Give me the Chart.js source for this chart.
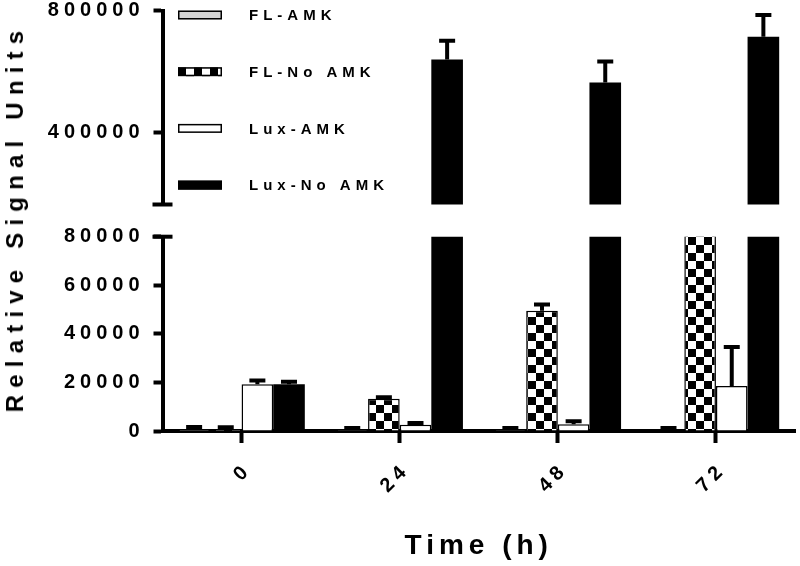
<!DOCTYPE html>
<html>
<head>
<meta charset="utf-8">
<script src="https://cdn.jsdelivr.net/npm/chart.js@4.4.1/dist/chart.umd.min.js"></script>
<style>
  html, body { margin: 0; padding: 0; background: #fff; }
  #wrap { position: relative; width: 800px; height: 566px; overflow: hidden; }
  #upper { position: absolute; left: 0; top: 0; }
  #lower { position: absolute; left: 0; top: 205px; }
  #ytitle {
    position: absolute; left: 15px; top: 218px;
    transform: translate(-50%, -50%) rotate(-90deg);
    font: bold 24px "Liberation Sans", Arial, sans-serif;
    letter-spacing: 7.2px; line-height: 1; white-space: nowrap; color: #000;
  }
</style>
</head>
<body>
<div id="wrap">
  <canvas id="lower" width="800" height="361"></canvas>
  <canvas id="upper" width="800" height="215"></canvas>
  <div id="ytitle">Relative Signal Units</div>
</div>
<script>
// values (means and error bar heights)
const timeLabels = ["0", "24", "48", "72"];
const seriesNames = ["FL-AMK", "FL-No AMK", "Lux-AMK", "Lux-No AMK"];
const flAmk = [600, 400, 400, 300];
const flAmkErr = [1000, 800, 800, 900];
const flNoAmk = [700, 13300, 49500, 95000];
const flNoAmkErr = [800, 550, 2600, 0];
const luxAmk = [19200, 2600, 2800, 18500];
const luxAmkErr = [1600, 650, 1250, 16100];
const luxNoAmk = [19200, 640000, 565000, 715000];
const luxNoAmkErr = [1100, 61700, 69200, 71300];
const upperTicks = [400000, 800000];
const lowerTicks = [0, 20000, 40000, 60000, 80000];

const FONT = '"Liberation Sans", Arial, sans-serif';

function checker(size) {
  const c = document.createElement("canvas");
  c.width = c.height = size * 2;
  const g = c.getContext("2d");
  g.fillStyle = "#fff";
  g.fillRect(0, 0, size * 2, size * 2);
  g.fillStyle = "#000";
  g.fillRect(0, 0, size, size);
  g.fillRect(size, size, size, size);
  return g.createPattern(c, "repeat");
}
const checkPattern = checker(8);

function makeDatasets() {
  const fills = ["#d4d4d4", checkPattern, "#ffffff", "#000000"];
  const values = [flAmk, flNoAmk, luxAmk, luxNoAmk];
  const errs = [flAmkErr, flNoAmkErr, luxAmkErr, luxNoAmkErr];
  return seriesNames.map((name, i) => ({
    label: name,
    data: values[i],
    errors: errs[i],
    backgroundColor: fills[i],
    borderColor: "#000",
    borderWidth: i === 3 ? 0 : 1.5,
    clip: 0
  }));
}

const spacing = {
  id: "spacing",
  beforeUpdate(chart) { chart.ctx.letterSpacing = "5px"; },
  beforeDraw(chart) { chart.ctx.letterSpacing = "5px"; }
};

const errorBars = {
  id: "errorBars",
  afterDatasetsDraw(chart) {
    const ctx = chart.ctx;
    const area = chart.chartArea;
    const yScale = chart.scales.y;
    ctx.save();
    ctx.beginPath();
    ctx.rect(area.left, area.top - 4, area.right - area.left, area.bottom - area.top + 4);
    ctx.clip();
    ctx.strokeStyle = "#000";
    ctx.lineWidth = 4;
    chart.data.datasets.forEach((ds, i) => {
      const meta = chart.getDatasetMeta(i);
      meta.data.forEach((bar, j) => {
        const e = ds.errors[j];
        if (!e) return;
        const yv = yScale.getPixelForValue(ds.data[j]);
        const ye = yScale.getPixelForValue(ds.data[j] + e);
        ctx.beginPath();
        ctx.moveTo(bar.x, yv);
        ctx.lineTo(bar.x, ye);
        ctx.moveTo(bar.x - 8, ye);
        ctx.lineTo(bar.x + 8, ye);
        ctx.stroke();
      });
    });
    ctx.restore();
  }
};

const axisBreak = {
  id: "axisBreak",
  afterDraw(chart, args, opts) {
    const ctx = chart.ctx;
    const s = chart.scales.y;
    const y = s.getPixelForValue(opts.at === "min" ? s.min : s.max);
    const x = chart.chartArea.left;
    ctx.save();
    ctx.strokeStyle = "#000";
    ctx.lineWidth = 4;
    ctx.beginPath();
    ctx.moveTo(x - 10, y);
    ctx.lineTo(x + 10, y);
    ctx.stroke();
    ctx.restore();
  }
};

const sideLegend = {
  id: "sideLegend",
  afterDraw(chart) {
    const ctx = chart.ctx;
    ctx.save();
    ctx.letterSpacing = "5px";
    ctx.font = "bold 15px " + FONT;
    ctx.textBaseline = "middle";
    ctx.fillStyle = "#000";
    chart.data.datasets.forEach((ds, i) => {
      const cy = 15 + i * 56.7;
      ctx.save();
      ctx.translate(178, cy - 4.5);
      ctx.fillStyle = ds.backgroundColor;
      ctx.fillRect(0, 0, 44, 9);
      ctx.strokeStyle = "#000";
      ctx.lineWidth = 1.5;
      ctx.strokeRect(0.75, 0.75, 42.5, 7.5);
      ctx.restore();
      ctx.fillText(ds.label, 249, cy + 1);
    });
    ctx.restore();
  }
};

function yAxis(min, max, tickValues) {
  return {
    min: min,
    max: max,
    afterBuildTicks(scale) { scale.ticks = tickValues.map(v => ({ value: v })); },
    afterFit(scale) {
      scale.width = 162.5;
      scale.paddingTop = 0;
      scale.paddingBottom = 0;
    },
    grid: { drawOnChartArea: false, drawTicks: true, tickLength: 9, tickWidth: 4, tickColor: "#000" },
    border: { display: true, color: "#000", width: 4 },
    ticks: {
      color: "#000",
      padding: 9,
      font: { family: FONT, size: 20, weight: "bold", lineHeight: 1 },
      callback: v => String(v)
    }
  };
}

const common = {
  responsive: false,
  animation: false,
  events: [],
  datasets: { bar: { categoryPercentage: 0.8, barPercentage: 1 } }
};

new Chart(document.getElementById("upper"), {
  type: "bar",
  data: { labels: timeLabels, datasets: makeDatasets() },
  options: Object.assign({}, common, {
    layout: { padding: { top: 10.8, right: 5, bottom: 10.5, left: 0 } },
    scales: {
      x: { display: false, offset: true },
      y: yAxis(165000, 800000, upperTicks)
    },
    plugins: {
      legend: { display: false },
      tooltip: { enabled: false },
      axisBreak: { at: "min" }
    }
  }),
  plugins: [spacing, errorBars, axisBreak, sideLegend]
});

new Chart(document.getElementById("lower"), {
  type: "bar",
  data: { labels: timeLabels, datasets: makeDatasets() },
  options: Object.assign({}, common, {
    layout: { padding: { top: 31.7, right: 5, bottom: 0, left: 0 } },
    scales: {
      x: {
        offset: true,
        afterFit(scale) { scale.height = 135; },
        grid: { offset: false, drawOnChartArea: false, drawTicks: true, tickLength: 12, tickWidth: 4, tickColor: "#000" },
        border: { display: true, color: "#000", width: 4 },
        ticks: {
          color: "#000",
          padding: 15,
          labelOffset: 7,
          minRotation: 45,
          maxRotation: 45,
          font: { family: FONT, size: 20, weight: "bold" }
        },
        title: {
          display: true,
          text: "Time (h)",
          color: "#000",
          padding: { top: 0, bottom: 3 },
          font: { family: FONT, size: 28, weight: "bold" }
        }
      },
      y: yAxis(0, 80000, lowerTicks)
    },
    plugins: {
      legend: { display: false },
      tooltip: { enabled: false },
      axisBreak: { at: "max" }
    }
  }),
  plugins: [spacing, errorBars, axisBreak]
});
</script>
</body>
</html>
